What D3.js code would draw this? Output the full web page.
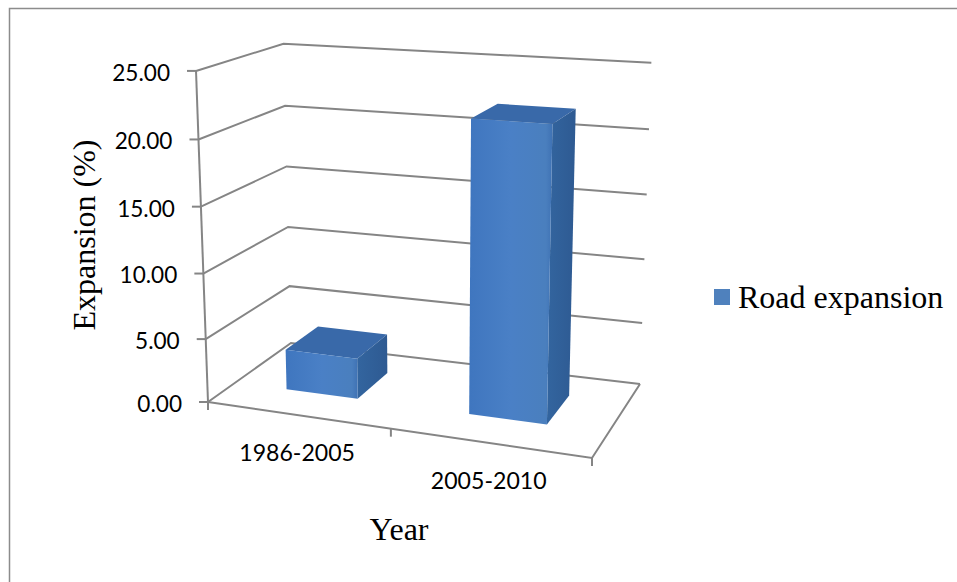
<!DOCTYPE html>
<html><head><meta charset="utf-8">
<script src="https://cdn.jsdelivr.net/npm/d3@7/dist/d3.min.js"></script>
<style>html,body{margin:0;padding:0;background:#fff;overflow:hidden}svg{display:block}</style>
</head><body><svg id="c" width="957" height="582"></svg>
<script>
const categories = ["1986-2005", "2005-2010"];
const values = [3.2, 22];
const seriesName = "Road expansion";
const yTicks = [0, 5, 10, 15, 20, 25];
const yFractions = [0, 0.19, 0.388, 0.59, 0.793, 1];
const yTitle = "Expansion (%)";
const xTitle = "Year";

const svg = d3.select("#c");
const gridColor = "#858585";

// projection of the 3D box: floor quad (front-left, front-right, back-right, back-left) + converging verticals
const floorQuad = [[208,402],[592,458],[640,384],[291,343]];
function homography(q){
  const [[x0,y0],[x1,y1],[x2,y2],[x3,y3]] = q;
  const dx1=x1-x2, dx2=x3-x2, sx=x0-x1+x2-x3, dy1=y1-y2, dy2=y3-y2, sy=y0-y1+y2-y3;
  const den=dx1*dy2-dx2*dy1;
  const g=(sx*dy2-dx2*sy)/den, h=(dx1*sy-sx*dy1)/den;
  const a=x1-x0+g*x1, b=x3-x0+h*x3, d=y1-y0+g*y1, e=y3-y0+h*y3;
  return (u,v)=>{const w=g*u+h*v+1;return [(a*u+b*v+x0)/w,(d*u+e*v+y0)/w];};
}
const hFloor=homography(floorQuad);
const yFrac=d3.scaleLinear().domain(yTicks).range(yFractions);
const tWarp=d3.scaleLinear().domain([0,0.5,1]).range([0,0.513,1]);
function project(t,depth,val){
  const f=yFrac(val), p=hFloor(tWarp(t),depth);
  return [p[0]+(p[0]-430)*0.054*f, p[1]-(114+0.54*p[1])*f];
}
const x=d3.scaleBand().domain(categories).range([0,1]).paddingInner(0.6).paddingOuter(0.3);
const band=d3.scaleBand().domain(categories).range([0,1]);
const depthRange=[0.31,0.72];
const line=d3.line();

// outer frame
svg.append("path").attr("d",line([[9.5,582],[9.5,8.5],[957,8.5]]))
  .attr("fill","none").attr("stroke","#8c8c8c").attr("stroke-width",1.5);

// gridlines
const g=svg.append("g").attr("fill","none").attr("stroke",gridColor).attr("stroke-width",2);
yTicks.forEach(v=>{
  g.append("path").attr("d",line([project(0,0,v),project(0,1,v),project(1,1,v)]));
  const p=project(0,0,v);
  g.append("path").attr("d",line([[p[0]-9,p[1]],p]));
});
// left axis, floor edges
g.append("path").attr("d",line([project(0,0,0),project(0,0,25)]));
g.append("path").attr("d",line([project(0,0,0),project(1,0,0),project(1,1,0)]));
[0,0.5,1].forEach(t=>{const p=project(t,0,0);
  g.append("path").attr("d",line([p,[p[0],p[1]+8]]));});

// gradients
const defs=svg.append("defs");
const grad=defs.append("linearGradient").attr("id","front");
[[0,"#3f76bf"],[0.5,"#4a80c6"],[0.92,"#4a7fbe"],[1,"#3f72b4"]].forEach(s=>grad.append("stop").attr("offset",s[0]).attr("stop-color",s[1]));
const gradS=defs.append("linearGradient").attr("id","side");
[[0,"#33659f"],[1,"#2e5a92"]].forEach(s=>gradS.append("stop").attr("offset",s[0]).attr("stop-color",s[1]));

// bars
categories.forEach((c,i)=>{
  const t0=x(c), t1=t0+x.bandwidth(), d0=depthRange[0], d1=depthRange[1], v=values[i];
  const b=svg.append("g");
  b.append("path").attr("d",line([project(t0,d0,v),project(t1,d0,v),project(t1,d1,v),project(t0,d1,v)])+"Z").attr("fill","#3969a9");
  b.append("path").attr("d",line([project(t1,d0,0),project(t1,d0,v),project(t1,d1,v),project(t1,d1,0)])+"Z").attr("fill","url(#side)");
  b.append("path").attr("d",line([project(t0,d0,0),project(t1,d0,0),project(t1,d0,v),project(t0,d0,v)])+"Z").attr("fill","url(#front)");
});

// y tick labels
const fmt=d3.format(".2f");
svg.append("g").attr("font-family","Lato, sans-serif").attr("font-size",22.6).attr("fill","#000").attr("text-anchor","end")
 .selectAll("text").data(yTicks).join("text")
 .attr("x",v=>project(0,0,v)[0]-26).attr("y",v=>project(0,0,v)[1]+2).attr("dy","0.35em").text(v=>fmt(v));
// category labels
svg.append("g").attr("font-family","Lato, sans-serif").attr("font-size",23.1).attr("fill","#000").attr("text-anchor","middle")
 .selectAll("text").data(categories).join("text")
 .attr("x",c=>project(band(c)+band.bandwidth()/2,0,0)[0]+1).attr("y",c=>project(band(c)+band.bandwidth()/2,0,0)[1]+46).text(c=>c);

// titles
svg.append("text").attr("transform","translate(95,235) rotate(-90)").attr("text-anchor","middle")
 .attr("font-family","'Liberation Serif',serif").attr("font-size",32).text(yTitle);
svg.append("text").attr("x",399).attr("y",540).attr("text-anchor","middle")
 .attr("font-family","'Liberation Serif',serif").attr("font-size",32).text(xTitle);
// legend
svg.append("rect").attr("x",714).attr("y",289).attr("width",16).attr("height",16).attr("fill","#4f81bd");
svg.append("text").attr("x",738).attr("y",308).attr("font-family","'Liberation Serif',serif").attr("font-size",32).text(seriesName);
</script></body></html>
